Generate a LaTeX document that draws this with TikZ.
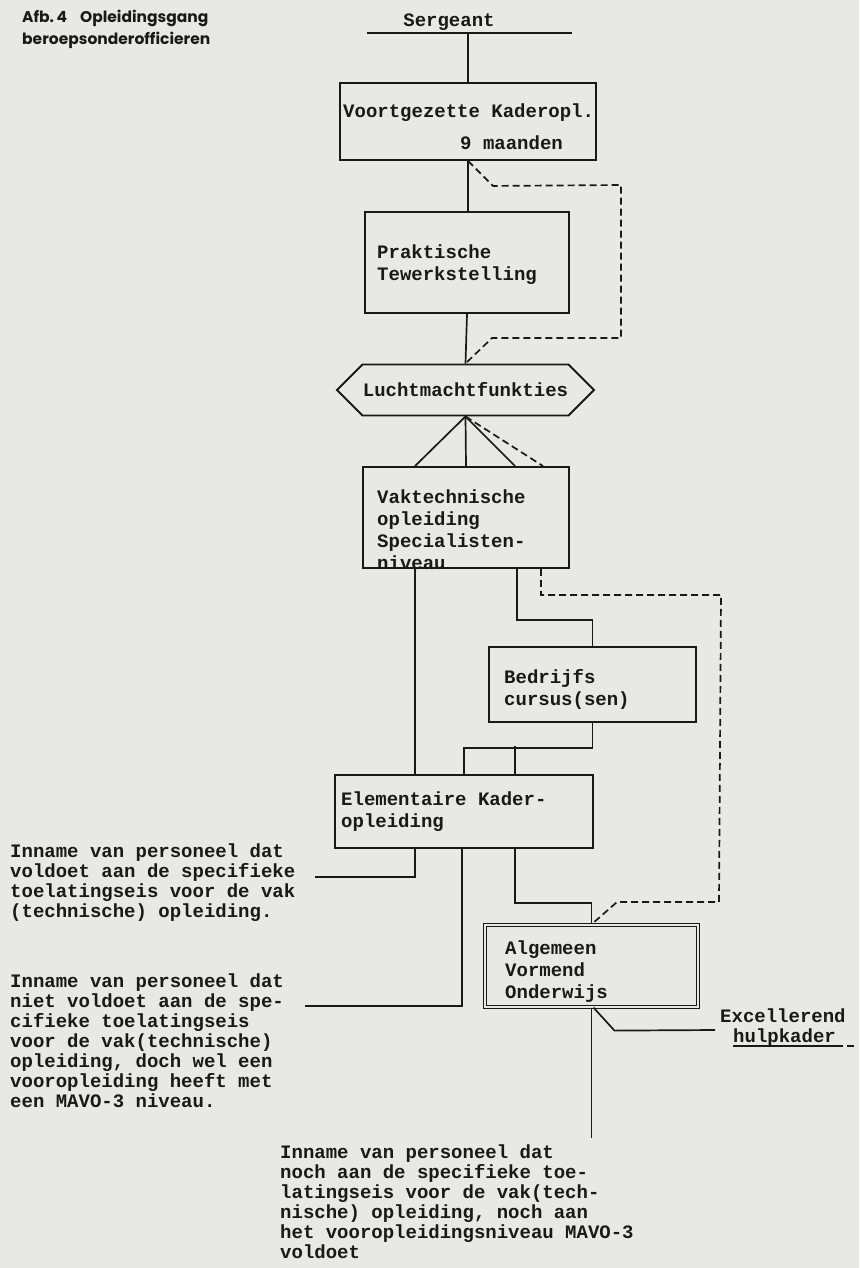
\documentclass[tikz,border=0pt]{standalone}
\usepackage{fontspec}
\setmonofont{Liberation Mono}
\newfontfamily\titlefont{Poppins}
\usetikzlibrary{shapes.symbols}

\definecolor{papier}{RGB}{232,232,229}
\definecolor{inkt}{RGB}{25,25,25}

\tikzset{
  kader/.style={draw=inkt, line width=1.9pt, inner sep=0pt},
  tekst/.style={inner sep=0pt, align=left, text=inkt, font=\fontsize{19}{22}\selectfont\ttfamily\bfseries},
  inname/.style={tekst, font=\fontsize{19}{20}\selectfont\ttfamily\bfseries},
  lijn/.style={draw=inkt, line width=1.7pt},
  stip/.style={lijn, dash pattern=on 7pt off 4pt},
}

\begin{document}
\begin{tikzpicture}[x=1pt, y=-1pt]
    % 背景
    \fill[papier] (0,0) rectangle (859,1268);
    \useasboundingbox (0,0) rectangle (859,1268);

    % 标题 (base = 最后一行)
    \node[anchor=base west, inner sep=0pt, align=left, text=inkt,
          font={\titlefont\bfseries\fontsize{15.5}{22}\selectfont}] (titel) at (22,45)
          {Afb.\,4\hspace{13pt}Opleidingsgang\\beroepsonderofficieren};

    % 方框
    \node[tekst, anchor=base] (serg) at (449,27) {Sergeant};
    \coordinate (sl) at (367,33);
    \coordinate (sr) at (572,33);

    \node[kader, minimum width=256pt, minimum height=77pt] (vko) at (468,121.5) {};
    \node[tekst, anchor=base west] (vkot) at (343,118) {Voortgezette Kaderopl.};
    \node[tekst, anchor=base west] (vkom) at (460,150) {9 maanden};

    \node[kader, minimum width=204pt, minimum height=101pt] (prak) at (467,262.5) {};
    \node[tekst, anchor=base west] (prakt) at (377,280) {Praktische\\Tewerkstelling};

    \node[kader, tekst, signal, signal to=west and east, minimum width=257pt,
          minimum height=51pt] (lucht) at (465.5,390) {Luchtmachtfunkties};

    \node[kader, minimum width=206pt, minimum height=101pt] (vak) at (466,517.5) {};
    \node[tekst, anchor=base west] (vakt) at (377,569)
          {Vaktechnische\\opleiding\\Specialisten-\\niveau};

    \node[kader, minimum width=207pt, minimum height=75pt] (bedr) at (592.5,684.5) {};
    \node[tekst, anchor=base west] (bedrt) at (504,705) {Bedrijfs\\cursus(sen)};

    \node[kader, minimum width=258pt, minimum height=73pt] (elem) at (464,811.5) {};
    \node[tekst, anchor=base west] (elemt) at (341,827) {Elementaire Kader-\\opleiding};

    \node[kader, double=papier, double distance=2pt, line width=1.2pt,
          minimum width=213pt, minimum height=82pt] (alg) at (591.5,966) {};
    \node[tekst, anchor=base west] (algt) at (505,998) {Algemeen\\Vormend\\Onderwijs};

    % 文字
    \node[inname, anchor=base west] (inn1) at (10,917)
          {Inname van personeel dat\\voldoet aan de specifieke\\toelatingseis voor de vak\\(technische) opleiding.};
    \node[inname, anchor=base west] (inn2) at (10,1107)
          {Inname van personeel dat\\niet voldoet aan de spe-\\cifieke toelatingseis\\voor de vak(technische)\\opleiding, doch wel een\\vooropleiding heeft met\\een MAVO-3 niveau.};
    \node[inname, anchor=base west] (inn3) at (280,1258)
          {Inname van personeel dat\\noch aan de specifieke toe-\\latingseis voor de vak(tech-\\nische) opleiding, noch aan\\het vooropleidingsniveau MAVO-3\\voldoet};

    \node[tekst, anchor=base west] (exc) at (720,1022) {Excellerend};
    \node[tekst, anchor=base west] (hulp) at (733,1042) {hulpkader};

    \coordinate (e1) at (315,877);
    \coordinate (e2) at (305,1006);
    \coordinate (e3) at (591.5,1138);
    \coordinate (e4) at (715,1030);

    % 连线
    \draw[lijn] (sl) -- (sr);
    \draw[lijn] (vko.north |- sl) -- (vko.north);
    \draw[lijn] (vko.south) -- (vko.south |- prak.north);
    \draw[stip] (vko.south) -- ++(25,25) -- (621,185) -- (621,338) -- (492,338) -- (lucht.north);
    \draw[lijn] (prak.south) -- (lucht.north);

    \draw[lijn] ([xshift=-51pt]vak.north) -- (lucht.south) -- ([xshift=49pt]vak.north);
    \draw[lijn] (lucht.south) -- (vak.north);
    \draw[stip] (lucht.south) -- ([xshift=77pt]vak.north);

    \draw[lijn] ([xshift=-51pt]vak.south) -- ([xshift=-51pt]vak.south |- elem.north);
    \draw[lijn] ([xshift=51pt]vak.south) -- ++(0,51) -| (bedr.north);
    \draw[stip] ([xshift=75pt]vak.south) -- ++(0,26) -- ++(180,0) -- ++(-2,307) -- ++(-102,0) -- (alg.north);

    \draw[lijn] (bedr.south) -- ++(0,25) -| (elem.north);
    \draw[lijn] ([xshift=51pt]elem.north) -- ++(0,-28);
    \draw[lijn] ([xshift=-49pt]elem.south) |- (e1);
    \draw[lijn] ([xshift=-2pt]elem.south) |- (e2);
    \draw[lijn] ([xshift=51pt]elem.south) -- ++(0,54) -| (alg.north);
    \draw[lijn] (alg.south) -- (e3);
    \draw[lijn] ([xshift=2pt]alg.south) -- ++(21,23) -- (e4);

    % 下划线
    \draw[lijn, line width=1.2pt] ([yshift=-4pt]hulp.base west) -- ([yshift=-4pt]hulp.base east);
    \draw[stip, line width=1.2pt] ([yshift=-4pt]hulp.base east) -- ++(18,0);
\end{tikzpicture}
\end{document}
